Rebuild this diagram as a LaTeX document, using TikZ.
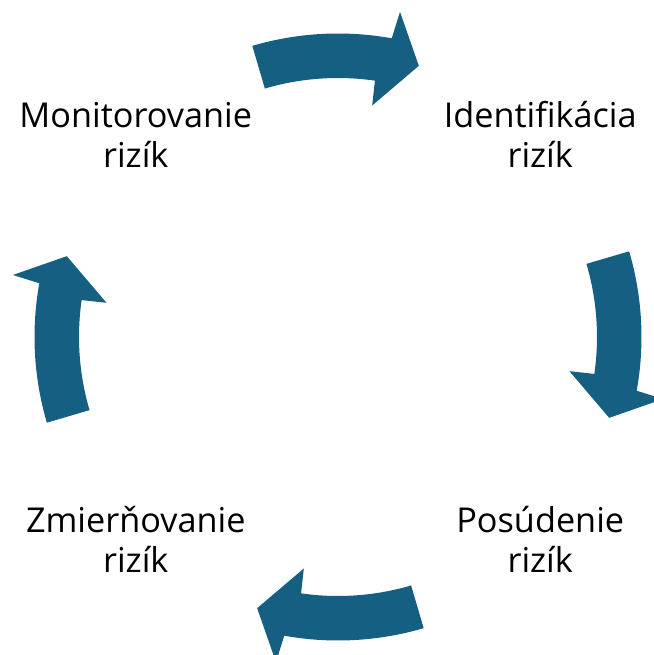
\documentclass[tikz,border=0pt]{standalone}
\usepackage{fontspec}
\setmainfont{Open Sans}
\usetikzlibrary{positioning}

\definecolor{cycleblue}{HTML}{156082}

\begin{document}
\begin{tikzpicture}[
            scale=0.02,
            semithick
        ]

        \tikzstyle{every node}=[
            align=center,
            font=\fontsize{19.5}{22.8}\selectfont
        ]
        \tikzstyle{block arrow}=[
            fill=cycleblue,
            draw=none
        ]

        \useasboundingbox (-338,-318) rectangle (316,337);
        \coordinate (c) at (0,0);

        \node (monit) at (135:286) {Monitorovanie\\rizík};
        \node (ident) at (45:286) {Identifikácia\\rizík};
        \node (posud) at (-45:286) {Posúdenie\\rizík};
        \node (zmier) at (-135:286) {Zmierňovanie\\rizík};

        % arrows between the steps
        \fill[block arrow, rotate=0] (106.4:303.5) arc[start angle=106.4, end angle=79.8, radius=303.5]
            -- (79.2:331) -- (73.4:283) -- (81.6:234) -- (81.8:259)
            arc[start angle=81.8, end angle=106.4, radius=259] -- cycle;
        \fill[block arrow, rotate=-90] (106.4:303.5) arc[start angle=106.4, end angle=79.8, radius=303.5]
            -- (79.2:331) -- (73.4:283) -- (81.6:234) -- (81.8:259)
            arc[start angle=81.8, end angle=106.4, radius=259] -- cycle;
        \fill[block arrow, rotate=-180] (106.4:303.5) arc[start angle=106.4, end angle=79.8, radius=303.5]
            -- (79.2:331) -- (73.4:283) -- (81.6:234) -- (81.8:259)
            arc[start angle=81.8, end angle=106.4, radius=259] -- cycle;
        \fill[block arrow, rotate=-270] (106.4:303.5) arc[start angle=106.4, end angle=79.8, radius=303.5]
            -- (79.2:331) -- (73.4:283) -- (81.6:234) -- (81.8:259)
            arc[start angle=81.8, end angle=106.4, radius=259] -- cycle;

    \end{tikzpicture}
\end{document}
